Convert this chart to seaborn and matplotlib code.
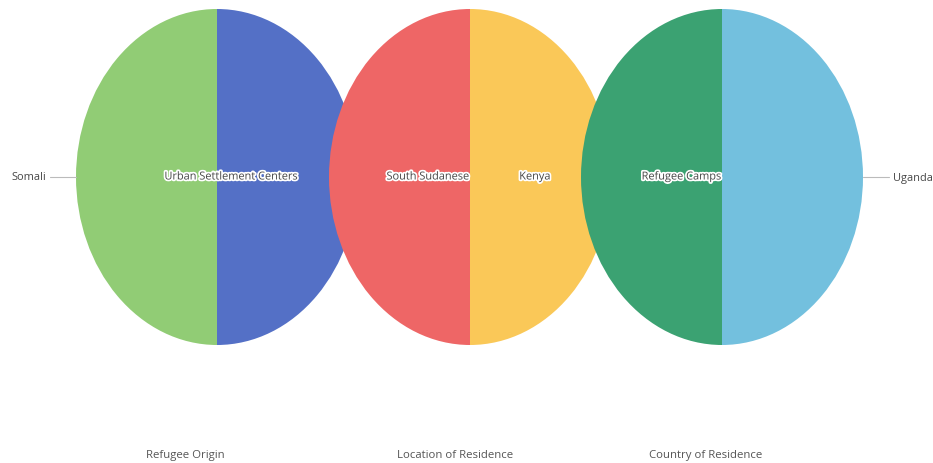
import matplotlib
matplotlib.use("Agg")
import matplotlib.pyplot as plt
import matplotlib.patheffects as pe
import seaborn as sns

# data: each pie is a 50/50 split
titles = ["Refugee Origin", "Location of Residence", "Country of Residence"]
left_labels = ["Somali", "South Sudanese", "Refugee Camps"]
right_labels = ["Urban Settlement Centers", "Kenya", "Uganda"]
left_values = [50, 50, 50]
right_values = [50, 50, 50]

palette = sns.color_palette(["#91cc75", "#5470c6", "#ee6666", "#fac858", "#3ba272", "#73c0de"])

sns.set_theme(style="white")
plt.rcParams["font.family"] = ["Open Sans", "DejaVu Sans"]

W, H = 933, 464
RX, RY = 141, 168          # pixel radii of the stretched pies
centers_px = [217, 470, 722]
cy_px = 178

fig = plt.figure(figsize=(W / 100, H / 100), dpi=100)
ax = fig.add_axes([0, 0, 1, 1])

def to_data(x, y):
    return x / RX, (H - y) / RY

stroke = [pe.withStroke(linewidth=2.5, foreground="white")]
text_kw = dict(fontsize=7.9, color="#464646", va="center")

for i, cx in enumerate(centers_px):
    cx_d, cy_d = to_data(cx, cy_px)
    ax.pie(
        [left_values[i], right_values[i]],
        colors=[palette[2 * i], palette[2 * i + 1]],
        startangle=90,
        counterclock=True,
        radius=1,
        center=(cx_d, cy_d),
        frame=True,
        wedgeprops=dict(linewidth=0),
    )

# labels
y_lab = to_data(0, cy_px)[1]
ax.text(*to_data(centers_px[0] + 15, cy_px), right_labels[0], ha="center", path_effects=stroke, **text_kw)
ax.text(*to_data(centers_px[1], cy_px), left_labels[1], ha="right", path_effects=stroke, **text_kw)
ax.text(*to_data(centers_px[1] + 65, cy_px), right_labels[1], ha="center", path_effects=stroke, **text_kw)
ax.text(*to_data(centers_px[2], cy_px), left_labels[2], ha="right", path_effects=stroke, **text_kw)

# outside labels with leader lines
ax.plot([50 / RX, (centers_px[0] - RX) / RX], [y_lab, y_lab], color="#bbbbbb", lw=0.8)
ax.text(46 / RX, y_lab, left_labels[0], ha="right", **text_kw)
ax.plot([(centers_px[2] + RX) / RX, 889 / RX], [y_lab, y_lab], color="#bbbbbb", lw=0.8)
ax.text(893 / RX, y_lab, right_labels[2], ha="left", **text_kw)

# titles under each pie
for t, cx in zip(titles, [185, 455, 706]):
    ax.text(*to_data(cx, 456), t, ha="center", fontsize=8.2, color="#555555", va="center")

ax.set_xlim(0, W / RX)
ax.set_ylim(0, H / RY)
ax.set_aspect("auto")
ax.axis("off")

plt.savefig("out.png", dpi=100)
plt.close()
